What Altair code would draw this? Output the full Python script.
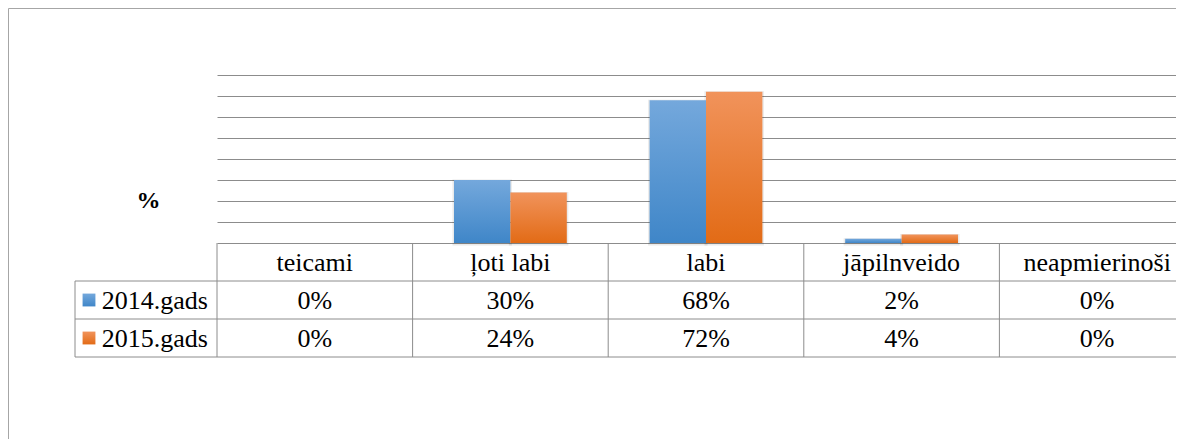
import altair as alt
import pandas as pd

# ---- data ----
categories = ["teicami", "ļoti labi", "labi", "jāpilnveido", "neapmierinoši"]
series = ["2014.gads", "2015.gads"]
values_2014 = [0, 30, 68, 2, 0]
values_2015 = [0, 24, 72, 4, 0]
y_ticks = [0, 10, 20, 30, 40, 50, 60, 70, 80]
axis_title = "%"

# ---- layout constants ----
PLOT_H = 168
ROW_H = 38
TABLE_H = 3 * ROW_H
W = 959
X_RANGE = 978
LEG_W = 142
PAD_L, PAD_T = 209, 67
TOTAL_H = 431
PAD_B = TOTAL_H - PAD_T - PLOT_H - TABLE_H
FONT = "Liberation Serif"
FS = 26
LINE = "#8c8c8c"

rows = ["hdr"] + series

df = pd.DataFrame({
    "cat": categories * 2,
    "series": [s for s in series for _ in categories],
    "value": values_2014 + values_2015,
})
df["label"] = df["value"].map(lambda v: f"{v}%")

hdr = pd.DataFrame({"cat": categories, "series": "hdr", "label": categories})
cells = pd.concat([hdr, df[["cat", "series", "label"]]], ignore_index=True)
legend_df = pd.DataFrame({"series": series})
cat_df = pd.DataFrame({"cat": categories})

x_scale = alt.Scale(domain=categories, range=[0, X_RANGE], paddingInner=0, paddingOuter=0)
y_bar = alt.Scale(domain=[0, 80], range=[PLOT_H, 0], nice=False, zero=True)
xoff = alt.Scale(domain=series, paddingInner=0, paddingOuter=0.734)
y_tab = alt.Scale(domain=rows, range=[PLOT_H, PLOT_H + TABLE_H], paddingInner=0, paddingOuter=0)


def grad(top, bottom):
    return alt.LinearGradient(
        gradient="linear",
        stops=[alt.GradientStop(color=top, offset=0), alt.GradientStop(color=bottom, offset=1)],
        x1=0, x2=0, y1=0, y2=1,
    )


grads = {"2014.gads": grad("#74a8dc", "#3f86c8"), "2015.gads": grad("#f1935b", "#e26b16")}

bar_axis = alt.Axis(
    values=y_ticks, labels=False, ticks=False, domain=False, grid=True,
    gridColor=LINE, gridWidth=1, gridOpacity=1, title=axis_title, titleAngle=0, titleX=-69, titleY=125,
    titleFont=FONT, titleFontSize=24, titleFontWeight="bold", titleColor="black",
    titleAlign="center", titleBaseline="middle",
)

bar_enc = dict(
    x=alt.X("cat:N", scale=x_scale, axis=None, sort=categories),
    xOffset=alt.XOffset("series:N", scale=xoff),
    y=alt.Y("value:Q", scale=y_bar, axis=bar_axis),
)

shadow = alt.Chart(df).transform_filter(alt.datum.value > 0).mark_bar(
    color="#000000", opacity=0.08, stroke="#000000", strokeWidth=3, yOffset=1
).encode(**bar_enc)

bar_layers = [shadow]
for s in series:
    bar_layers.append(
        alt.Chart(df).transform_filter(alt.datum.series == s).mark_bar(color=grads[s]).encode(**bar_enc)
    )
bars = alt.layer(*bar_layers)

# ---- table ----
cell_text = alt.Chart(cells).mark_text(font=FONT, fontSize=FS, color="black", baseline="middle", dy=1).encode(
    x=alt.X("cat:N", scale=x_scale, axis=None, sort=categories),
    y=alt.Y("series:N", scale=y_tab, axis=None),
    text="label:N",
)

row_labels = alt.Chart(legend_df).mark_text(font=FONT, fontSize=FS, color="black", align="right", baseline="middle", dy=1).encode(
    x=alt.value(-9),
    y=alt.Y("series:N", scale=y_tab, axis=None),
    text="series:N",
)

squares = []
for s in series:
    squares.append(
        alt.Chart(legend_df).transform_filter(alt.datum.series == s).mark_square(
            size=165, color=grads[s], opacity=1, filled=True
        ).encode(
            x=alt.value(-128),
            y=alt.Y("series:N", scale=y_tab, axis=None),
        )
    )

vlines = alt.Chart(cat_df).mark_rule(color=LINE, strokeWidth=1).encode(
    x=alt.X("cat:N", scale=x_scale, axis=None, sort=categories, bandPosition=0),
    y=alt.value(PLOT_H),
    y2=alt.value(PLOT_H + TABLE_H),
)

leg_vline = alt.Chart(legend_df).transform_filter(alt.datum.series == series[0]).mark_rule(color=LINE, strokeWidth=1).encode(
    x=alt.value(-LEG_W),
    y=alt.Y("series:N", scale=y_tab, axis=None, bandPosition=0),
    y2=alt.value(PLOT_H + TABLE_H),
)

hlines_top = alt.Chart(legend_df).mark_rule(color=LINE, strokeWidth=1).encode(
    y=alt.Y("series:N", scale=y_tab, axis=None, bandPosition=0),
    x=alt.value(-LEG_W),
    x2=alt.value(X_RANGE),
)
hline_bottom = alt.Chart(legend_df).transform_filter(alt.datum.series == series[-1]).mark_rule(color=LINE, strokeWidth=1).encode(
    y=alt.Y("series:N", scale=y_tab, axis=None, bandPosition=1),
    x=alt.value(-LEG_W),
    x2=alt.value(X_RANGE),
)

frame_left = alt.Chart(cat_df).transform_filter(alt.datum.cat == categories[0]).mark_rule(color="#a6a6a6", strokeWidth=1).encode(
    x=alt.value(-PAD_L + 0.5),
    y=alt.value(-PAD_T + 0.5),
    y2=alt.value(PLOT_H + TABLE_H + PAD_B),
)
frame_top = alt.Chart(cat_df).transform_filter(alt.datum.cat == categories[0]).mark_rule(color="#a6a6a6", strokeWidth=1).encode(
    y=alt.value(-PAD_T + 0.5),
    x=alt.value(-PAD_L + 0.5),
    x2=alt.value(X_RANGE),
)

table = alt.layer(vlines, leg_vline, hlines_top, hline_bottom, cell_text, row_labels, *squares, frame_left, frame_top)

chart = alt.layer(bars, table).resolve_scale(y="independent").properties(
    width=W,
    height=PLOT_H + TABLE_H,
    autosize=alt.AutoSizeParams(type="none"),
    padding={"left": PAD_L, "top": PAD_T, "right": 0, "bottom": PAD_B},
    background="white",
).configure_view(stroke=None)

chart.save("out.html", embed_options={"renderer": "svg", "actions": False})
